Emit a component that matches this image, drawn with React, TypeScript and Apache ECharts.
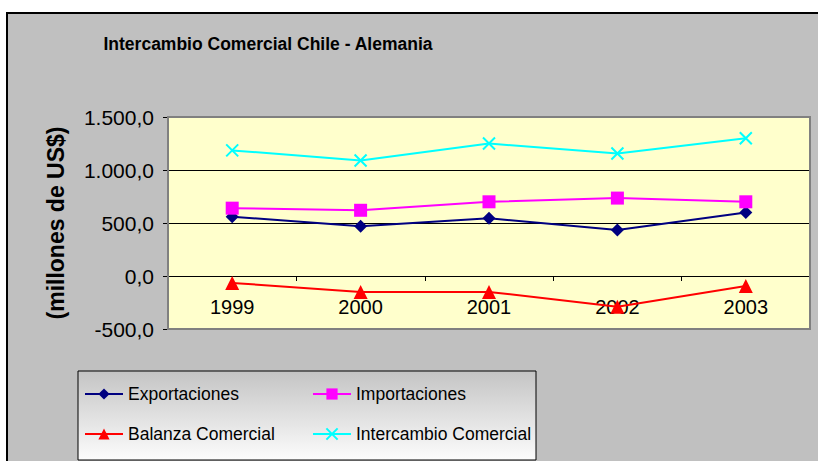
import React, { useEffect, useRef } from "react";
import * as echarts from "echarts";

const categories = ["1999", "2000", "2001", "2002", "2003"];
const exportaciones = [560, 470, 545, 435, 600];
const importaciones = [640, 620, 700, 735, 700];
const balanza = [-65, -150, -150, -290, -95];
const intercambio = [1185, 1090, 1250, 1155, 1300];
const seriesNames = ["Exportaciones", "Importaciones", "Balanza Comercial", "Intercambio Comercial"];
const yMin = -500;
const yMax = 1500;
const yStep = 500;

const FONT = 'Arial, "Liberation Sans", sans-serif';

function fmt(v: number): string {
  const neg = v < 0;
  const a = Math.abs(v);
  const intPart = Math.floor(a).toString().replace(/\B(?=(\d{3})+(?!\d))/g, ".");
  const dec = (a - Math.floor(a)).toFixed(1).slice(2);
  return (neg ? "-" : "") + intPart + "," + dec;
}

export default function App() {
  const ref = useRef<HTMLDivElement>(null);
  useEffect(() => {
    if (!ref.current) return;
    const chart = echarts.init(ref.current, undefined, { renderer: "svg" });
    const grid = { left: 168, top: 117, width: 642, height: 212 };
    // place the category axis on the zero line
    const zeroOffset = -(grid.height * (0 - yMin)) / (yMax - yMin);
    const legendRow1 = 384;
    const legendRow2 = 424;
    const legendBase = {
      orient: "horizontal" as const,
      padding: 0,
      itemWidth: 38,
      itemHeight: 14,
      itemGap: 0,
      textStyle: { fontFamily: FONT, fontSize: 17.5, color: "#000", lineHeight: 20, padding: [0, 0, 0, 0] },
    };
    chart.setOption({
      animation: false,
      backgroundColor: "#ffffff",
      title: {
        text: "Intercambio Comercial Chile - Alemania",
        left: 268,
        top: 35,
        padding: 0,
        textAlign: "center",
        textStyle: { fontFamily: FONT, fontSize: 17.5, fontWeight: "bold", color: "#000" },
      },
      graphic: [
        {
          type: "rect",
          z: -100,
          shape: { x: 7, y: 13, width: 1000, height: 1000 },
          style: { fill: "#C0C0C0", stroke: "#000", lineWidth: 2 },
        },
        {
          type: "rect",
          z: 100,
          silent: true,
          shape: { x: grid.left, y: grid.top, width: grid.width, height: grid.height },
          style: { fill: "none", stroke: "#808080", lineWidth: 2 },
        },
        {
          type: "rect",
          z: 1,
          shape: { x: 78, y: 371, width: 458, height: 89 },
          style: {
            fill: new echarts.graphic.LinearGradient(0, 0, 0, 1, [
              { offset: 0, color: "#C4C4C4" },
              { offset: 1, color: "#FCFCFC" },
            ]),
            stroke: "#000",
            lineWidth: 1,
          },
        },
      ],
      legend: [
        { ...legendBase, data: [seriesNames[0]], left: 84, top: legendRow1 },
        { ...legendBase, data: [seriesNames[1]], left: 312, top: legendRow1 },
        { ...legendBase, data: [seriesNames[2]], left: 84, top: legendRow2 },
        { ...legendBase, data: [seriesNames[3]], left: 312, top: legendRow2 },
      ],
      grid: { ...grid, show: true, backgroundColor: "#FFFFCC", borderWidth: 0 },
      xAxis: {
        type: "category",
        data: categories,
        boundaryGap: true,
        position: "bottom",
        offset: zeroOffset,
        axisLine: { show: true, onZero: false, lineStyle: { color: "#000", width: 1 } },
        axisTick: { show: true, length: 5, lineStyle: { color: "#000" } },
        axisLabel: { fontFamily: FONT, fontSize: 20, color: "#000", margin: 21 },
        splitLine: { show: false },
      },
      yAxis: {
        type: "value",
        min: yMin,
        max: yMax,
        interval: yStep,
        name: "(millones de US$)",
        nameLocation: "middle",
        nameRotate: 90,
        nameGap: 101,
        nameTextStyle: { fontFamily: FONT, fontSize: 23, fontWeight: "bold", color: "#000" },
        axisLine: { show: true, lineStyle: { color: "#000", width: 1 } },
        axisTick: { show: true, length: 5, lineStyle: { color: "#000" } },
        axisLabel: { fontFamily: FONT, fontSize: 21, color: "#000", margin: 14, formatter: (v: number) => fmt(v) },
        splitLine: { show: true, lineStyle: { color: "#000", width: 1 } },
      },
      series: [
        {
          name: seriesNames[0],
          type: "line",
          data: exportaciones,
          symbol: "diamond",
          symbolSize: 13,
          lineStyle: { color: "#000080", width: 2 },
          itemStyle: { color: "#000080" },
        },
        {
          name: seriesNames[1],
          type: "line",
          data: importaciones,
          symbol: "rect",
          symbolSize: 13,
          lineStyle: { color: "#FF00FF", width: 2 },
          itemStyle: { color: "#FF00FF" },
        },
        {
          name: seriesNames[2],
          type: "line",
          data: balanza,
          symbol: "triangle",
          symbolSize: 14,
          lineStyle: { color: "#FF0000", width: 2 },
          itemStyle: { color: "#FF0000" },
        },
        {
          name: seriesNames[3],
          type: "line",
          data: intercambio,
          symbol: "path://M0,0L10,10M10,0L0,10",
          symbolSize: 12,
          lineStyle: { color: "#00FFFF", width: 2 },
          itemStyle: { color: "#00FFFF", borderColor: "#00FFFF", borderWidth: 2 },
        },
      ],
    });
    return () => chart.dispose();
  }, []);
  return <div ref={ref} style={{ position: "fixed", left: 0, top: 0, width: 818, height: 461 }} />;
}
